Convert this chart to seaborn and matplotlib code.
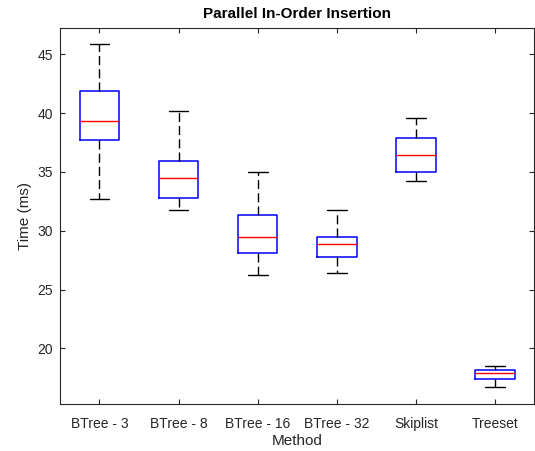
import numpy as np
import pandas as pd
import matplotlib
matplotlib.use("Agg")
import matplotlib.pyplot as plt
import seaborn as sns

# Box statistics: [lower whisker, Q1, median, Q3, upper whisker]
methods = ["BTree - 3", "BTree - 8", "BTree - 16", "BTree - 32", "Skiplist", "Treeset"]
btree3 = [32.7, 37.7, 39.3, 41.9, 45.9]
btree8 = [31.8, 32.8, 34.5, 35.9, 40.2]
btree16 = [26.2, 28.1, 29.5, 31.3, 35.0]
btree32 = [26.4, 27.8, 28.9, 29.5, 31.8]
skiplist = [34.2, 35.0, 36.4, 37.9, 39.6]
treeset = [16.7, 17.4, 17.9, 18.2, 18.5]
yticks = [20, 25, 30, 35, 40, 45]

series = [btree3, btree8, btree16, btree32, skiplist, treeset]
df = pd.DataFrame({
    "Method": np.repeat(methods, [len(s) for s in series]),
    "Time": np.concatenate(series),
})

sns.set_theme(style="white")
plt.rcParams["font.family"] = ["Liberation Sans", "DejaVu Sans"]
txt = "#262626"

fig = plt.figure(figsize=(5.35, 4.51), dpi=100)
ax = fig.add_axes([0.112, 0.104, 0.887, 0.834])

sns.boxplot(
    data=df, x="Method", y="Time", order=methods, ax=ax,
    fill=False, width=0.5, whis=(0, 100), showfliers=False,
    boxprops=dict(color="#0000ff", linewidth=1.1),
    medianprops=dict(color="#ff0000", linewidth=1.0),
    whiskerprops=dict(color="#000000", linewidth=1.0, linestyle=(0, (6.5, 3))),
    capprops=dict(color="#000000", linewidth=1.0),
)

ax.set_xlim(-0.5, 5.5)
ax.set_ylim(15.27, 47.23)
ax.set_yticks(yticks)
ax.set_yticklabels([str(v) for v in yticks])

for s in ax.spines.values():
    s.set_visible(True)
    s.set_color(txt)
    s.set_linewidth(0.8)

ax.tick_params(axis="both", which="both", direction="in", length=3.5, width=0.8,
               color=txt, labelcolor=txt, labelsize=10, top=True, right=True,
               bottom=True, left=True)
ax.tick_params(axis="x", pad=9.5)
ax.tick_params(axis="y", pad=5)

ax.set_xlabel("Method", fontsize=11, color=txt, labelpad=2)
ax.set_ylabel("Time (ms)", fontsize=11, color=txt, labelpad=4)
ax.set_title("Parallel In-Order Insertion", fontsize=11, fontweight="bold",
             color="black", pad=7.5)
ax.grid(False)

fig.savefig("out.png", dpi=100)
